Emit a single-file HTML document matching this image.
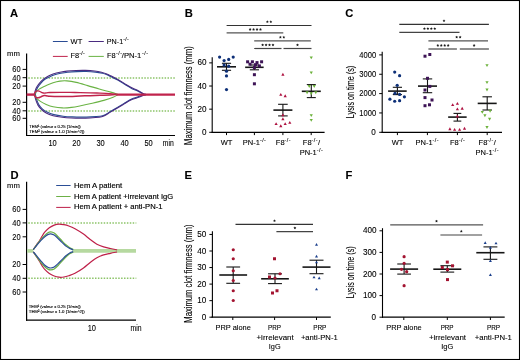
<!DOCTYPE html><html><head><meta charset="utf-8"><style>
html,body{margin:0;padding:0;background:#fff;}
body{width:520px;height:360px;overflow:hidden;}
svg{display:block;will-change:transform;}
text{font-family:"Liberation Sans", sans-serif;stroke:#000;stroke-width:0.1px;}
.b{stroke-width:0.16px;}
</style></head><body>
<svg xmlns="http://www.w3.org/2000/svg" width="520" height="360" viewBox="0 0 520 360">
<rect x="0" y="0" width="520" height="360" fill="#fff"/>
<text x="10" y="16.8" font-size="11.2" text-anchor="start" fill="#000" font-weight="bold" >A</text>
<text x="184.7" y="16.9" font-size="11.2" text-anchor="start" fill="#000" font-weight="bold" >B</text>
<text x="345.2" y="16.9" font-size="11.2" text-anchor="start" fill="#000" font-weight="bold" >C</text>
<text x="10.4" y="178.6" font-size="11.2" text-anchor="start" fill="#000" font-weight="bold" >D</text>
<text x="184.6" y="178.6" font-size="11.2" text-anchor="start" fill="#000" font-weight="bold" >E</text>
<text x="345.6" y="178.6" font-size="11.2" text-anchor="start" fill="#000" font-weight="bold" >F</text>
<line x1="52.9" y1="41.5" x2="67.7" y2="41.5" stroke="#2a4c94" stroke-width="1" />
<text x="70.6" y="43.6" font-size="7.5" text-anchor="start" fill="#000" font-weight="normal" >WT</text>
<line x1="88.6" y1="41.5" x2="103.8" y2="41.5" stroke="#4a2b80" stroke-width="1" />
<text x="106.8" y="43.6" font-size="7.2" text-anchor="start" fill="#000" font-weight="normal" >PN-1<tspan font-size="5.2" dy="-3.0" letter-spacing="0.35">-/-</tspan></text>
<line x1="52.9" y1="56.4" x2="67.7" y2="56.4" stroke="#c0234c" stroke-width="1" />
<text x="70.6" y="58.4" font-size="7.4" text-anchor="start" fill="#000" font-weight="normal" >F8<tspan font-size="5.2" dy="-3.0" letter-spacing="0.35">-/-</tspan></text>
<line x1="88.6" y1="56.4" x2="103.8" y2="56.4" stroke="#6ab344" stroke-width="1" />
<text x="106.9" y="58.4" font-size="7.4" text-anchor="start" fill="#000" font-weight="normal" >F8</text>
<text x="116" y="54.8" font-size="5.3" text-anchor="start" fill="#000" font-weight="normal" letter-spacing="0.45">-/-</text>
<text x="121.8" y="58.4" font-size="7.4" text-anchor="start" fill="#000" font-weight="normal" textLength="19.6" lengthAdjust="spacingAndGlyphs" >/PN-1</text>
<text x="142" y="54.8" font-size="5.3" text-anchor="start" fill="#000" font-weight="normal" letter-spacing="0.45">-/-</text>
<text x="7.1" y="56.3" font-size="7.3" text-anchor="start" fill="#000" font-weight="normal" textLength="12.9" lengthAdjust="spacingAndGlyphs" >mm</text>
<line x1="26.6" y1="53.4" x2="26.6" y2="136.1" stroke="#000" stroke-width="1.2" />
<line x1="26" y1="135.5" x2="175" y2="135.5" stroke="#000" stroke-width="1.2" />
<line x1="22.6" y1="69.4" x2="26.6" y2="69.4" stroke="#000" stroke-width="1" />
<text x="20.6" y="72.35" font-size="8.3" text-anchor="end" fill="#000" font-weight="normal" textLength="8.31" lengthAdjust="spacingAndGlyphs" >60</text>
<line x1="22.6" y1="77.7" x2="26.6" y2="77.7" stroke="#000" stroke-width="1" />
<text x="20.6" y="80.65" font-size="8.3" text-anchor="end" fill="#000" font-weight="normal" textLength="8.31" lengthAdjust="spacingAndGlyphs" >40</text>
<line x1="22.6" y1="86.1" x2="26.6" y2="86.1" stroke="#000" stroke-width="1" />
<text x="20.6" y="89.05" font-size="8.3" text-anchor="end" fill="#000" font-weight="normal" textLength="8.31" lengthAdjust="spacingAndGlyphs" >20</text>
<line x1="22.6" y1="102.3" x2="26.6" y2="102.3" stroke="#000" stroke-width="1" />
<text x="20.6" y="105.25" font-size="8.3" text-anchor="end" fill="#000" font-weight="normal" textLength="8.31" lengthAdjust="spacingAndGlyphs" >20</text>
<line x1="22.6" y1="110.8" x2="26.6" y2="110.8" stroke="#000" stroke-width="1" />
<text x="20.6" y="113.75" font-size="8.3" text-anchor="end" fill="#000" font-weight="normal" textLength="8.31" lengthAdjust="spacingAndGlyphs" >40</text>
<line x1="22.6" y1="118.3" x2="26.6" y2="118.3" stroke="#000" stroke-width="1" />
<text x="20.6" y="121.25" font-size="8.3" text-anchor="end" fill="#000" font-weight="normal" textLength="8.31" lengthAdjust="spacingAndGlyphs" >60</text>
<text x="52.6" y="145.8" font-size="8.3" text-anchor="middle" fill="#000" font-weight="normal" textLength="8.31" lengthAdjust="spacingAndGlyphs" >10</text>
<text x="76.5" y="145.8" font-size="8.3" text-anchor="middle" fill="#000" font-weight="normal" textLength="8.31" lengthAdjust="spacingAndGlyphs" >20</text>
<text x="100.6" y="145.8" font-size="8.3" text-anchor="middle" fill="#000" font-weight="normal" textLength="8.31" lengthAdjust="spacingAndGlyphs" >30</text>
<text x="124.6" y="145.8" font-size="8.3" text-anchor="middle" fill="#000" font-weight="normal" textLength="8.31" lengthAdjust="spacingAndGlyphs" >40</text>
<text x="148.6" y="145.8" font-size="8.3" text-anchor="middle" fill="#000" font-weight="normal" textLength="8.31" lengthAdjust="spacingAndGlyphs" >50</text>
<text x="168.3" y="145.8" font-size="8.3" text-anchor="middle" fill="#000" font-weight="normal" textLength="10.97" lengthAdjust="spacingAndGlyphs" >min</text>
<text x="29.2" y="127.6" font-size="4" text-anchor="start" fill="#000" font-weight="normal" textLength="51.5" lengthAdjust="spacingAndGlyphs" style="stroke-width:0.12px">TEM¹ (valeur x 0.25 [1/min])</text>
<text x="29.2" y="132.6" font-size="4" text-anchor="start" fill="#000" font-weight="normal" textLength="55.3" lengthAdjust="spacingAndGlyphs" style="stroke-width:0.12px">TEM² (valeur x 1.0 [1/min^2])</text>
<line x1="28.3" y1="77.9" x2="175" y2="77.9" stroke="#8cc468" stroke-width="1.5" stroke-dasharray="1.5 1.4"/>
<line x1="28.3" y1="110.9" x2="175" y2="110.9" stroke="#8cc468" stroke-width="1.5" stroke-dasharray="1.5 1.4"/>
<path d="M35.3,94.9 C35.45,94.22 35.8,92.05 36.2,90.8 C36.6,89.55 36.87,88.73 37.7,87.4 C38.53,86.07 40.05,84.12 41.2,82.8 C42.35,81.48 43.25,80.47 44.6,79.5 C45.95,78.53 47.75,77.73 49.3,77 C50.85,76.27 51.98,75.72 53.9,75.1 C55.82,74.48 58.5,73.78 60.8,73.3 C63.1,72.82 65,72.48 67.7,72.2 C70.4,71.92 73.92,71.72 77,71.6 C80.08,71.48 83.13,71.42 86.2,71.5 C89.27,71.58 92.72,71.8 95.4,72.1 C98.08,72.4 100.37,72.85 102.3,73.3 C104.23,73.75 105.58,74.25 107,74.8 C108.42,75.35 109,75.72 110.8,76.6 C112.6,77.48 115.48,78.83 117.8,80.1 C120.12,81.37 122.4,82.82 124.7,84.2 C127,85.58 129.28,87.17 131.6,88.4 C133.92,89.63 136.27,90.4 138.6,91.6 C140.93,92.8 144.43,94.93 145.6,95.6" fill="none" stroke="#2a4c94" stroke-width="1.1"/>
<path d="M35.3,94 C35.52,94.88 36,97.5 36.6,99.3 C37.2,101.1 37.95,103.22 38.9,104.8 C39.85,106.38 40.95,107.6 42.3,108.8 C43.65,110 45.07,111.03 47,112 C48.93,112.97 51.22,113.9 53.9,114.6 C56.58,115.3 60.03,115.82 63.1,116.2 C66.17,116.58 69.22,116.75 72.3,116.9 C75.38,117.05 78.52,117.1 81.6,117.1 C84.68,117.1 87.73,117.05 90.8,116.9 C93.87,116.75 97.7,116.52 100,116.2 C102.3,115.88 102.8,115.82 104.6,115 C106.4,114.18 108.6,112.62 110.8,111.3 C113,109.98 115.48,108.48 117.8,107.1 C120.12,105.72 122.4,104.35 124.7,103 C127,101.65 129.28,100.08 131.6,99 C133.92,97.92 136.27,97.38 138.6,96.5 C140.93,95.62 144.43,94.17 145.6,93.7" fill="none" stroke="#2a4c94" stroke-width="1.1"/>
<path d="M34.5,94.3 C34.65,93.62 35,91.45 35.4,90.2 C35.8,88.95 36.07,88.13 36.9,86.8 C37.73,85.47 39.25,83.52 40.4,82.2 C41.55,80.88 42.45,79.95 43.8,78.9 C45.15,77.85 46.95,76.72 48.5,75.9 C50.05,75.08 51.18,74.62 53.1,74 C55.02,73.38 57.7,72.68 60,72.2 C62.3,71.72 64.2,71.38 66.9,71.1 C69.6,70.82 73.12,70.62 76.2,70.5 C79.28,70.38 82.33,70.32 85.4,70.4 C88.47,70.48 91.92,70.7 94.6,71 C97.28,71.3 99.57,71.75 101.5,72.2 C103.43,72.65 104.78,73.15 106.2,73.7 C107.62,74.25 108.2,74.62 110,75.5 C111.8,76.38 114.68,77.73 117,79 C119.32,80.27 121.6,81.72 123.9,83.1 C126.2,84.48 128.48,86.07 130.8,87.3 C133.12,88.53 135.47,89.3 137.8,90.5 C140.13,91.7 143.63,93.83 144.8,94.5" fill="none" stroke="#4a2b80" stroke-width="1.1"/>
<path d="M34.5,94.6 C34.72,95.48 35.2,98.1 35.8,99.9 C36.4,101.7 37.15,103.82 38.1,105.4 C39.05,106.98 40.15,108.12 41.5,109.4 C42.85,110.68 44.27,112.05 46.2,113.1 C48.13,114.15 50.42,115 53.1,115.7 C55.78,116.4 59.23,116.92 62.3,117.3 C65.37,117.68 68.42,117.85 71.5,118 C74.58,118.15 77.72,118.2 80.8,118.2 C83.88,118.2 86.93,118.15 90,118 C93.07,117.85 96.9,117.62 99.2,117.3 C101.5,116.98 102,116.92 103.8,116.1 C105.6,115.28 107.8,113.72 110,112.4 C112.2,111.08 114.68,109.58 117,108.2 C119.32,106.82 121.6,105.45 123.9,104.1 C126.2,102.75 128.48,101.18 130.8,100.1 C133.12,99.02 135.47,98.48 137.8,97.6 C140.13,96.72 143.63,95.27 144.8,94.8" fill="none" stroke="#4a2b80" stroke-width="1.1"/>
<path d="M34.8,94.2 C35,93.83 35.27,92.85 36,92 C36.73,91.15 37.5,90.17 39.2,89.1 C40.9,88.03 43.88,86.67 46.2,85.6 C48.52,84.53 50.8,83.45 53.1,82.7 C55.4,81.95 57.7,81.4 60,81.1 C62.3,80.8 64.2,80.68 66.9,80.9 C69.6,81.12 72.73,81.62 76.2,82.4 C79.67,83.18 83.87,84.5 87.7,85.6 C91.53,86.7 95.35,87.92 99.2,89 C103.05,90.08 107.68,91.22 110.8,92.1 C113.92,92.98 116.72,93.93 117.9,94.3" fill="none" stroke="#6ab344" stroke-width="1.1"/>
<path d="M34.8,94.6 C34.97,95.07 34.87,96.27 35.8,97.4 C36.73,98.53 38.67,100.23 40.4,101.4 C42.13,102.57 44.08,103.52 46.2,104.4 C48.32,105.28 50.42,106.12 53.1,106.7 C55.78,107.28 59.23,107.78 62.3,107.9 C65.37,108.02 68.42,107.75 71.5,107.4 C74.58,107.05 77.33,106.48 80.8,105.8 C84.27,105.12 88.47,104.2 92.3,103.3 C96.13,102.4 100.33,101.4 103.8,100.4 C107.27,99.4 110.75,98.27 113.1,97.3 C115.45,96.33 117.1,95.05 117.9,94.6" fill="none" stroke="#6ab344" stroke-width="1.1"/>
<line x1="26.6" y1="94.6" x2="34.6" y2="94.6" stroke="#c0234c" stroke-width="2.4" />
<line x1="116.3" y1="94.6" x2="175" y2="94.6" stroke="#c0234c" stroke-width="2.4" />
<path d="M34.3,94.2 C34.45,93.87 34.83,92.72 35.2,92.2 C35.57,91.68 36,91.32 36.5,91.1 C37,90.88 37.62,90.83 38.2,90.9 C38.78,90.97 39.37,91.22 40,91.5 C40.63,91.78 41.25,92.33 42,92.6 C42.75,92.87 43.67,93.07 44.5,93.1 C45.33,93.13 46.08,92.9 47,92.8 C47.92,92.7 47.83,92.57 50,92.5 C52.17,92.43 55.83,92.4 60,92.4 C64.17,92.4 70,92.43 75,92.5 C80,92.57 85.83,92.7 90,92.8 C94.17,92.9 96.67,92.97 100,93.1 C103.33,93.23 107.25,93.4 110,93.6 C112.75,93.8 115.42,94.18 116.5,94.3" fill="none" stroke="#c0234c" stroke-width="1.3"/>
<path d="M34.3,94.6 C34.45,94.93 34.83,96.1 35.2,96.6 C35.57,97.1 36,97.4 36.5,97.6 C37,97.8 37.62,97.85 38.2,97.8 C38.78,97.75 39.37,97.57 40,97.3 C40.63,97.03 41.25,96.48 42,96.2 C42.75,95.92 43.67,95.65 44.5,95.6 C45.33,95.55 46.08,95.78 47,95.9 C47.92,96.02 47.83,96.2 50,96.3 C52.17,96.4 56.67,96.48 60,96.5 C63.33,96.52 66.67,96.48 70,96.4 C73.33,96.32 76.67,96.12 80,96 C83.33,95.88 86.67,95.81 90,95.7 C93.33,95.59 96.67,95.48 100,95.35 C103.33,95.22 107.25,95.04 110,94.9 C112.75,94.76 115.42,94.57 116.5,94.5" fill="none" stroke="#c0234c" stroke-width="1.5"/>
<line x1="10" y1="0" x2="10" y2="0" stroke="#fff" stroke-width="0" />
<text x="7.1" y="188.3" font-size="7.3" text-anchor="start" fill="#000" font-weight="normal" textLength="12.9" lengthAdjust="spacingAndGlyphs" >mm</text>
<line x1="26.6" y1="181.8" x2="26.6" y2="320.8" stroke="#000" stroke-width="1.2" />
<line x1="26" y1="320.2" x2="136" y2="320.2" stroke="#000" stroke-width="1.2" />
<line x1="22.6" y1="209.4" x2="26.6" y2="209.4" stroke="#000" stroke-width="1" />
<text x="20.6" y="212.35" font-size="8.3" text-anchor="end" fill="#000" font-weight="normal" textLength="8.31" lengthAdjust="spacingAndGlyphs" >60</text>
<line x1="22.6" y1="222.9" x2="26.6" y2="222.9" stroke="#000" stroke-width="1" />
<text x="20.6" y="225.85" font-size="8.3" text-anchor="end" fill="#000" font-weight="normal" textLength="8.31" lengthAdjust="spacingAndGlyphs" >40</text>
<line x1="22.6" y1="236.8" x2="26.6" y2="236.8" stroke="#000" stroke-width="1" />
<text x="20.6" y="239.75" font-size="8.3" text-anchor="end" fill="#000" font-weight="normal" textLength="8.31" lengthAdjust="spacingAndGlyphs" >20</text>
<line x1="22.6" y1="264.5" x2="26.6" y2="264.5" stroke="#000" stroke-width="1" />
<text x="20.6" y="267.45" font-size="8.3" text-anchor="end" fill="#000" font-weight="normal" textLength="8.31" lengthAdjust="spacingAndGlyphs" >20</text>
<line x1="22.6" y1="278.3" x2="26.6" y2="278.3" stroke="#000" stroke-width="1" />
<text x="20.6" y="281.25" font-size="8.3" text-anchor="end" fill="#000" font-weight="normal" textLength="8.31" lengthAdjust="spacingAndGlyphs" >40</text>
<line x1="22.6" y1="292" x2="26.6" y2="292" stroke="#000" stroke-width="1" />
<text x="20.6" y="294.95" font-size="8.3" text-anchor="end" fill="#000" font-weight="normal" textLength="8.31" lengthAdjust="spacingAndGlyphs" >60</text>
<text x="91.8" y="330.5" font-size="8.3" text-anchor="middle" fill="#000" font-weight="normal" textLength="8.31" lengthAdjust="spacingAndGlyphs" >10</text>
<text x="136" y="330.5" font-size="8.3" text-anchor="middle" fill="#000" font-weight="normal" textLength="10.97" lengthAdjust="spacingAndGlyphs" >min</text>
<text x="28.8" y="308" font-size="4" text-anchor="start" fill="#000" font-weight="normal" textLength="51.9" lengthAdjust="spacingAndGlyphs" style="stroke-width:0.12px">TEM¹ (valeur x 0.25 [1/min])</text>
<text x="28.8" y="313.3" font-size="4" text-anchor="start" fill="#000" font-weight="normal" textLength="55.8" lengthAdjust="spacingAndGlyphs" style="stroke-width:0.12px">TEM² (valeur x 1.0 [1/min^2])</text>
<line x1="56.2" y1="185.5" x2="70.6" y2="185.5" stroke="#2b4e96" stroke-width="1" />
<line x1="56.2" y1="196.5" x2="70.6" y2="196.5" stroke="#6cb046" stroke-width="1" />
<line x1="56.2" y1="207.4" x2="70.6" y2="207.4" stroke="#be1f48" stroke-width="1" />
<text x="74" y="187.8" font-size="7.2" text-anchor="start" fill="#000" font-weight="normal" textLength="48.2" lengthAdjust="spacingAndGlyphs" class="b">Hem A patient</text>
<text x="74" y="198.7" font-size="7.2" text-anchor="start" fill="#000" font-weight="normal" textLength="99.2" lengthAdjust="spacingAndGlyphs" class="b">Hem A patient +irrelevant IgG</text>
<text x="74" y="209.2" font-size="7.2" text-anchor="start" fill="#000" font-weight="normal" textLength="88.5" lengthAdjust="spacingAndGlyphs" class="b">Hem A patient + anti-PN-1</text>
<line x1="28.3" y1="223.1" x2="136.3" y2="223.1" stroke="#8cc468" stroke-width="1.5" stroke-dasharray="1.5 1.4"/>
<line x1="28.3" y1="278.3" x2="136.3" y2="278.3" stroke="#8cc468" stroke-width="1.5" stroke-dasharray="1.5 1.4"/>
<line x1="27" y1="250.9" x2="33.2" y2="250.9" stroke="#b6d9a0" stroke-width="3.6" />
<line x1="72.7" y1="250.9" x2="136" y2="250.9" stroke="#b6d9a0" stroke-width="3.6" />
<path d="M33.3,249.6 C33.87,248.78 35.65,246.22 36.7,244.7 C37.75,243.18 38.72,241.9 39.6,240.5 C40.48,239.1 41.18,237.65 42,236.3 C42.82,234.95 43.28,233.82 44.5,232.4 C45.72,230.98 47.68,229.02 49.3,227.8 C50.92,226.58 52.58,225.72 54.2,225.1 C55.82,224.48 57.38,224.17 59,224.1 C60.62,224.03 62.27,224.38 63.9,224.7 C65.53,225.02 66.95,225.32 68.8,226 C70.65,226.68 72.55,227.45 75,228.8 C77.45,230.15 80.97,232.32 83.5,234.1 C86.03,235.88 87.97,237.82 90.2,239.5 C92.43,241.18 94.67,242.97 96.9,244.2 C99.13,245.43 101.35,246.18 103.6,246.9 C105.85,247.62 108.15,248 110.4,248.5 C112.65,249 115.98,249.67 117.1,249.9" fill="none" stroke="#be1f48" stroke-width="1.2"/>
<path d="M33.3,251.9 C33.87,252.73 35.65,255.3 36.7,256.9 C37.75,258.5 38.72,260.05 39.6,261.5 C40.48,262.95 41.18,264.32 42,265.6 C42.82,266.88 43.28,267.88 44.5,269.2 C45.72,270.52 47.68,272.37 49.3,273.5 C50.92,274.63 52.58,275.38 54.2,276 C55.82,276.62 57.38,277.03 59,277.2 C60.62,277.37 62.27,277.25 63.9,277 C65.53,276.75 66.95,276.32 68.8,275.7 C70.65,275.08 72.55,274.58 75,273.3 C77.45,272.02 80.97,269.8 83.5,268 C86.03,266.2 87.97,264.22 90.2,262.5 C92.43,260.78 94.67,258.97 96.9,257.7 C99.13,256.43 101.35,255.63 103.6,254.9 C105.85,254.17 108.15,253.78 110.4,253.3 C112.65,252.82 115.98,252.22 117.1,252" fill="none" stroke="#be1f48" stroke-width="1.2"/>
<path d="M33.3,249.6 C33.87,248.8 35.48,246.42 36.7,244.8 C37.92,243.18 39.3,241.43 40.6,239.9 C41.9,238.37 43.22,236.83 44.5,235.6 C45.78,234.37 47.25,233.12 48.3,232.5 C49.35,231.88 49.82,231.8 50.8,231.9 C51.78,232 52.98,232.3 54.2,233.1 C55.42,233.9 56.8,235.4 58.1,236.7 C59.4,238 60.7,239.55 62,240.9 C63.3,242.25 64.62,243.67 65.9,244.8 C67.18,245.93 68.48,246.93 69.7,247.7 C70.92,248.47 72.62,249.12 73.2,249.4" fill="none" stroke="#6cb046" stroke-width="1.2"/>
<path d="M33.3,251.9 C33.87,252.72 35.48,255.1 36.7,256.8 C37.92,258.5 39.3,260.48 40.6,262.1 C41.9,263.72 43.22,265.28 44.5,266.5 C45.78,267.72 47.25,268.83 48.3,269.4 C49.35,269.97 49.82,269.98 50.8,269.9 C51.78,269.82 52.98,269.63 54.2,268.9 C55.42,268.17 56.8,266.8 58.1,265.5 C59.4,264.2 60.7,262.52 62,261.1 C63.3,259.68 64.62,258.22 65.9,257 C67.18,255.78 68.48,254.58 69.7,253.8 C70.92,253.02 72.62,252.55 73.2,252.3" fill="none" stroke="#6cb046" stroke-width="1.2"/>
<path d="M33.3,249.6 C33.87,248.88 35.48,246.75 36.7,245.3 C37.92,243.85 39.3,242.28 40.6,240.9 C41.9,239.52 43.22,238.08 44.5,237 C45.78,235.92 47.25,234.92 48.3,234.4 C49.35,233.88 49.82,233.78 50.8,233.9 C51.78,234.02 52.98,234.33 54.2,235.1 C55.42,235.87 56.8,237.28 58.1,238.5 C59.4,239.72 60.7,241.13 62,242.4 C63.3,243.67 64.62,245.1 65.9,246.1 C67.18,247.1 68.48,247.77 69.7,248.4 C70.92,249.03 72.62,249.65 73.2,249.9" fill="none" stroke="#2b4e96" stroke-width="1.2"/>
<path d="M33.3,251.9 C33.87,252.55 35.48,254.35 36.7,255.8 C37.92,257.25 39.3,259.07 40.6,260.6 C41.9,262.13 43.22,263.85 44.5,265 C45.78,266.15 47.25,267 48.3,267.5 C49.35,268 49.82,268.08 50.8,268 C51.78,267.92 52.98,267.73 54.2,267 C55.42,266.27 56.8,264.82 58.1,263.6 C59.4,262.38 60.7,261 62,259.7 C63.3,258.4 64.62,256.93 65.9,255.8 C67.18,254.67 68.48,253.6 69.7,252.9 C70.92,252.2 72.62,251.82 73.2,251.6" fill="none" stroke="#2b4e96" stroke-width="1.2"/>
<text x="0" y="0" font-size="10.2" text-anchor="middle" textLength="98.6" lengthAdjust="spacingAndGlyphs" transform="translate(192.4,95.6) rotate(-90)">Maximum clot firmness (mm)</text>
<line x1="212.2" y1="57.3" x2="212.2" y2="132.9" stroke="#000" stroke-width="1.1" />
<line x1="209.2" y1="62.88" x2="212.2" y2="62.88" stroke="#000" stroke-width="1" />
<text x="206.5" y="65.48" font-size="8.3" text-anchor="end" fill="#000" font-weight="normal" textLength="9.05" lengthAdjust="spacingAndGlyphs" >60</text>
<line x1="209.2" y1="86.02" x2="212.2" y2="86.02" stroke="#000" stroke-width="1" />
<text x="206.5" y="88.62" font-size="8.3" text-anchor="end" fill="#000" font-weight="normal" textLength="9.05" lengthAdjust="spacingAndGlyphs" >40</text>
<line x1="209.2" y1="109.16" x2="212.2" y2="109.16" stroke="#000" stroke-width="1" />
<text x="206.5" y="111.76" font-size="8.3" text-anchor="end" fill="#000" font-weight="normal" textLength="9.05" lengthAdjust="spacingAndGlyphs" >20</text>
<line x1="209.2" y1="132.3" x2="212.2" y2="132.3" stroke="#000" stroke-width="1" />
<text x="206.5" y="134.9" font-size="8.3" text-anchor="end" fill="#000" font-weight="normal" textLength="4.52" lengthAdjust="spacingAndGlyphs" >0</text>
<line x1="211.6" y1="132.3" x2="324.6" y2="132.3" stroke="#000" stroke-width="1.2" />
<line x1="226.5" y1="132.3" x2="226.5" y2="135.1" stroke="#000" stroke-width="1" />
<line x1="254.4" y1="132.3" x2="254.4" y2="135.1" stroke="#000" stroke-width="1" />
<line x1="282.9" y1="132.3" x2="282.9" y2="135.1" stroke="#000" stroke-width="1" />
<line x1="311.2" y1="132.3" x2="311.2" y2="135.1" stroke="#000" stroke-width="1" />
<text x="226.5" y="145.4" font-size="7.5" text-anchor="middle" fill="#000" font-weight="normal" >WT</text>
<text x="242.8" y="145.4" font-size="7.5" text-anchor="start" fill="#000" font-weight="normal" >PN-1<tspan font-size="5.4" dy="-3.2" letter-spacing="0.45">-/-</tspan></text>
<text x="275.8" y="145.4" font-size="7.5" text-anchor="start" fill="#000" font-weight="normal" >F8<tspan font-size="5.4" dy="-3.2" letter-spacing="0.45">-/-</tspan></text>
<text x="302.8" y="145.4" font-size="7.5" text-anchor="start" fill="#000" font-weight="normal" >F8<tspan font-size="5.4" dy="-3.2" letter-spacing="0.45">-/-</tspan><tspan dy="3.2">/</tspan></text>
<text x="299.7" y="155" font-size="7.5" text-anchor="start" fill="#000" font-weight="normal" >PN-1<tspan font-size="5.4" dy="-3.2" letter-spacing="0.45">-/-</tspan></text>
<line x1="226.6" y1="25.5" x2="311.5" y2="25.5" stroke="#333" stroke-width="1.1" />
<polygon points="267.38,20.35 267.82,21.24 268.8,21.39 268.09,22.08 268.26,23.06 267.38,22.6 266.49,23.06 266.66,22.08 265.95,21.39 266.93,21.24" fill="#1a1a1a"/>
<polygon points="270.82,20.35 271.27,21.24 272.25,21.39 271.54,22.08 271.71,23.06 270.82,22.6 269.94,23.06 270.11,22.08 269.4,21.39 270.38,21.24" fill="#1a1a1a"/>
<line x1="226.6" y1="32.9" x2="283.3" y2="32.9" stroke="#555" stroke-width="1.3" />
<polygon points="250.12,27.95 250.57,28.84 251.55,28.99 250.84,29.68 251.01,30.66 250.12,30.2 249.24,30.66 249.41,29.68 248.7,28.99 249.68,28.84" fill="#1a1a1a"/>
<polygon points="253.57,27.95 254.02,28.84 255,28.99 254.29,29.68 254.46,30.66 253.57,30.2 252.69,30.66 252.86,29.68 252.15,28.99 253.13,28.84" fill="#1a1a1a"/>
<polygon points="257.02,27.95 257.47,28.84 258.45,28.99 257.74,29.68 257.91,30.66 257.02,30.2 256.14,30.66 256.31,29.68 255.6,28.99 256.58,28.84" fill="#1a1a1a"/>
<polygon points="260.48,27.95 260.92,28.84 261.9,28.99 261.19,29.68 261.36,30.66 260.48,30.2 259.59,30.66 259.76,29.68 259.05,28.99 260.03,28.84" fill="#1a1a1a"/>
<line x1="254.2" y1="40.9" x2="310.8" y2="40.9" stroke="#555" stroke-width="1.3" />
<polygon points="280.38,35.75 280.82,36.64 281.8,36.79 281.09,37.48 281.26,38.46 280.38,38 279.49,38.46 279.66,37.48 278.95,36.79 279.93,36.64" fill="#1a1a1a"/>
<polygon points="283.82,35.75 284.27,36.64 285.25,36.79 284.54,37.48 284.71,38.46 283.82,38 282.94,38.46 283.11,37.48 282.4,36.79 283.38,36.64" fill="#1a1a1a"/>
<line x1="254.2" y1="48.5" x2="281.5" y2="48.5" stroke="#444" stroke-width="1.2" />
<polygon points="262.62,43.45 263.07,44.34 264.05,44.49 263.34,45.18 263.51,46.16 262.62,45.7 261.74,46.16 261.91,45.18 261.2,44.49 262.18,44.34" fill="#1a1a1a"/>
<polygon points="266.07,43.45 266.52,44.34 267.5,44.49 266.79,45.18 266.96,46.16 266.07,45.7 265.19,46.16 265.36,45.18 264.65,44.49 265.63,44.34" fill="#1a1a1a"/>
<polygon points="269.52,43.45 269.97,44.34 270.95,44.49 270.24,45.18 270.41,46.16 269.52,45.7 268.64,46.16 268.81,45.18 268.1,44.49 269.08,44.34" fill="#1a1a1a"/>
<polygon points="272.98,43.45 273.42,44.34 274.4,44.49 273.69,45.18 273.86,46.16 272.98,45.7 272.09,46.16 272.26,45.18 271.55,44.49 272.53,44.34" fill="#1a1a1a"/>
<line x1="283.5" y1="48.5" x2="311.5" y2="48.5" stroke="#444" stroke-width="1.2" />
<polygon points="297.5,43.45 297.94,44.34 298.93,44.49 298.21,45.18 298.38,46.16 297.5,45.7 296.62,46.16 296.79,45.18 296.07,44.49 297.06,44.34" fill="#1a1a1a"/>
<line x1="217" y1="66.8" x2="236" y2="66.8" stroke="#161616" stroke-width="1.6" />
<line x1="221.9" y1="63.3" x2="231.1" y2="63.3" stroke="#161616" stroke-width="1.1" />
<line x1="221.9" y1="70.3" x2="231.1" y2="70.3" stroke="#161616" stroke-width="1.1" />
<line x1="226.5" y1="63.3" x2="226.5" y2="70.3" stroke="#161616" stroke-width="1.1" />
<circle cx="219.6" cy="57.1" r="1.6" fill="#0e3078"/>
<circle cx="233.2" cy="57.1" r="1.6" fill="#0e3078"/>
<circle cx="224.1" cy="60.6" r="1.6" fill="#0e3078"/>
<circle cx="228.7" cy="59.4" r="1.6" fill="#0e3078"/>
<circle cx="224.1" cy="65.1" r="1.6" fill="#0e3078"/>
<circle cx="228.7" cy="66.2" r="1.6" fill="#0e3078"/>
<circle cx="226.5" cy="71.2" r="1.6" fill="#0e3078"/>
<circle cx="226.5" cy="75.9" r="1.6" fill="#0e3078"/>
<circle cx="226.5" cy="89.6" r="1.6" fill="#0e3078"/>
<line x1="245.15" y1="67.3" x2="263.65" y2="67.3" stroke="#161616" stroke-width="1.6" />
<line x1="249.8" y1="65" x2="259" y2="65" stroke="#161616" stroke-width="1.1" />
<line x1="249.8" y1="69.8" x2="259" y2="69.8" stroke="#161616" stroke-width="1.1" />
<line x1="254.4" y1="65" x2="254.4" y2="69.8" stroke="#161616" stroke-width="1.1" />
<rect x="246.1" y="60.3" width="3" height="3" fill="#3e1456"/>
<rect x="250.9" y="60.3" width="3" height="3" fill="#3e1456"/>
<rect x="255.5" y="61.1" width="3" height="3" fill="#3e1456"/>
<rect x="260.1" y="60.3" width="3" height="3" fill="#3e1456"/>
<rect x="248.5" y="62.7" width="3" height="3" fill="#3e1456"/>
<rect x="254" y="63.2" width="3" height="3" fill="#3e1456"/>
<rect x="257.9" y="64.4" width="3" height="3" fill="#3e1456"/>
<rect x="252.9" y="66.1" width="3" height="3" fill="#3e1456"/>
<rect x="252.9" y="73.2" width="3" height="3" fill="#3e1456"/>
<rect x="252.9" y="82.3" width="3" height="3" fill="#3e1456"/>
<line x1="273.4" y1="110.1" x2="292.4" y2="110.1" stroke="#161616" stroke-width="1.6" />
<line x1="278.1" y1="104.3" x2="287.7" y2="104.3" stroke="#161616" stroke-width="1.1" />
<line x1="278.1" y1="115.9" x2="287.7" y2="115.9" stroke="#161616" stroke-width="1.1" />
<line x1="282.9" y1="104.3" x2="282.9" y2="115.9" stroke="#161616" stroke-width="1.1" />
<polygon points="282.9,72.86 281.3,75.74 284.5,75.74" fill="#ae1240"/>
<polygon points="280.8,92.96 279.2,95.84 282.4,95.84" fill="#ae1240"/>
<polygon points="285.2,94.36 283.6,97.24 286.8,97.24" fill="#ae1240"/>
<polygon points="282.9,113.36 281.3,116.24 284.5,116.24" fill="#ae1240"/>
<polygon points="282.9,117.26 281.3,120.14 284.5,120.14" fill="#ae1240"/>
<polygon points="276.1,122.16 274.5,125.04 277.7,125.04" fill="#ae1240"/>
<polygon points="280.8,124.26 279.2,127.14 282.4,127.14" fill="#ae1240"/>
<polygon points="285.2,122.16 283.6,125.04 286.8,125.04" fill="#ae1240"/>
<polygon points="289.8,120.96 288.2,123.84 291.4,123.84" fill="#ae1240"/>
<line x1="301.8" y1="91.3" x2="320.8" y2="91.3" stroke="#161616" stroke-width="1.6" />
<line x1="306.8" y1="84.6" x2="315.8" y2="84.6" stroke="#161616" stroke-width="1.1" />
<line x1="306.8" y1="97.6" x2="315.8" y2="97.6" stroke="#161616" stroke-width="1.1" />
<line x1="311.3" y1="84.6" x2="311.3" y2="97.6" stroke="#161616" stroke-width="1.1" />
<polygon points="311.25,59.34 309.65,56.46 312.85,56.46" fill="#6bb13a"/>
<polygon points="311.25,74.34 309.65,71.46 312.85,71.46" fill="#6bb13a"/>
<polygon points="309.2,87.94 307.6,85.06 310.8,85.06" fill="#6bb13a"/>
<polygon points="314.2,87.94 312.6,85.06 315.8,85.06" fill="#6bb13a"/>
<polygon points="307.1,94.14 305.5,91.26 308.7,91.26" fill="#6bb13a"/>
<polygon points="311.25,95.19 309.65,92.31 312.85,92.31" fill="#6bb13a"/>
<polygon points="315.8,94.14 314.2,91.26 317.4,91.26" fill="#6bb13a"/>
<polygon points="311.25,117.04 309.65,114.16 312.85,114.16" fill="#6bb13a"/>
<polygon points="311.25,121.84 309.65,118.96 312.85,118.96" fill="#6bb13a"/>
<text x="0" y="0" font-size="10.4" text-anchor="middle" textLength="52.4" lengthAdjust="spacingAndGlyphs" transform="translate(353.9,92) rotate(-90)">Lysis on time (s)</text>
<line x1="382.2" y1="51.8" x2="382.2" y2="132.9" stroke="#000" stroke-width="1.1" />
<line x1="379.2" y1="54.9" x2="382.2" y2="54.9" stroke="#000" stroke-width="1" />
<text x="376.1" y="57.5" font-size="8.3" text-anchor="end" fill="#000" font-weight="normal" textLength="16.8" lengthAdjust="spacingAndGlyphs" >4000</text>
<line x1="379.2" y1="74.25" x2="382.2" y2="74.25" stroke="#000" stroke-width="1" />
<text x="376.1" y="76.85" font-size="8.3" text-anchor="end" fill="#000" font-weight="normal" textLength="16.8" lengthAdjust="spacingAndGlyphs" >3000</text>
<line x1="379.2" y1="93.6" x2="382.2" y2="93.6" stroke="#000" stroke-width="1" />
<text x="376.1" y="96.2" font-size="8.3" text-anchor="end" fill="#000" font-weight="normal" textLength="16.8" lengthAdjust="spacingAndGlyphs" >2000</text>
<line x1="379.2" y1="112.95" x2="382.2" y2="112.95" stroke="#000" stroke-width="1" />
<text x="376.1" y="115.55" font-size="8.3" text-anchor="end" fill="#000" font-weight="normal" textLength="16.8" lengthAdjust="spacingAndGlyphs" >1000</text>
<line x1="379.2" y1="132.3" x2="382.2" y2="132.3" stroke="#000" stroke-width="1" />
<text x="375.7" y="134.9" font-size="8.3" text-anchor="end" fill="#000" font-weight="normal" textLength="4.52" lengthAdjust="spacingAndGlyphs" >0</text>
<line x1="381.6" y1="132.3" x2="502" y2="132.3" stroke="#000" stroke-width="1.2" />
<line x1="397.4" y1="132.3" x2="397.4" y2="135.1" stroke="#000" stroke-width="1" />
<line x1="427.4" y1="132.3" x2="427.4" y2="135.1" stroke="#000" stroke-width="1" />
<line x1="457.4" y1="132.3" x2="457.4" y2="135.1" stroke="#000" stroke-width="1" />
<line x1="487.2" y1="132.3" x2="487.2" y2="135.1" stroke="#000" stroke-width="1" />
<text x="397.6" y="145.4" font-size="7.5" text-anchor="middle" fill="#000" font-weight="normal" >WT</text>
<text x="415.5" y="145.4" font-size="7.5" text-anchor="start" fill="#000" font-weight="normal" >PN-1<tspan font-size="5.4" dy="-3.2" letter-spacing="0.45">-/-</tspan></text>
<text x="450" y="145.4" font-size="7.5" text-anchor="start" fill="#000" font-weight="normal" >F8<tspan font-size="5.4" dy="-3.2" letter-spacing="0.45">-/-</tspan></text>
<text x="478.6" y="145.4" font-size="7.5" text-anchor="start" fill="#000" font-weight="normal" >F8<tspan font-size="5.4" dy="-3.2" letter-spacing="0.45">-/-</tspan><tspan dy="3.2">/</tspan></text>
<text x="475.5" y="155" font-size="7.5" text-anchor="start" fill="#000" font-weight="normal" >PN-1<tspan font-size="5.4" dy="-3.2" letter-spacing="0.45">-/-</tspan></text>
<line x1="399.3" y1="24.4" x2="488.9" y2="24.4" stroke="#333" stroke-width="1.1" />
<polygon points="444,19.35 444.44,20.24 445.43,20.39 444.71,21.08 444.88,22.06 444,21.6 443.12,22.06 443.29,21.08 442.57,20.39 443.56,20.24" fill="#1a1a1a"/>
<line x1="399.3" y1="32.4" x2="459.5" y2="32.4" stroke="#444" stroke-width="1.2" />
<polygon points="424.43,27.15 424.87,28.04 425.85,28.19 425.14,28.88 425.31,29.86 424.43,29.4 423.54,29.86 423.71,28.88 423,28.19 423.98,28.04" fill="#1a1a1a"/>
<polygon points="427.88,27.15 428.32,28.04 429.3,28.19 428.59,28.88 428.76,29.86 427.88,29.4 426.99,29.86 427.16,28.88 426.45,28.19 427.43,28.04" fill="#1a1a1a"/>
<polygon points="431.32,27.15 431.77,28.04 432.75,28.19 432.04,28.88 432.21,29.86 431.32,29.4 430.44,29.86 430.61,28.88 429.9,28.19 430.88,28.04" fill="#1a1a1a"/>
<polygon points="434.78,27.15 435.22,28.04 436.2,28.19 435.49,28.88 435.66,29.86 434.78,29.4 433.89,29.86 434.06,28.88 433.35,28.19 434.33,28.04" fill="#1a1a1a"/>
<line x1="428.4" y1="40.9" x2="488" y2="40.9" stroke="#555" stroke-width="1.3" />
<polygon points="456.67,35.65 457.12,36.54 458.1,36.69 457.39,37.38 457.56,38.36 456.67,37.9 455.79,38.36 455.96,37.38 455.25,36.69 456.23,36.54" fill="#1a1a1a"/>
<polygon points="460.12,35.65 460.57,36.54 461.55,36.69 460.84,37.38 461.01,38.36 460.12,37.9 459.24,38.36 459.41,37.38 458.7,36.69 459.68,36.54" fill="#1a1a1a"/>
<line x1="428.4" y1="49" x2="456.9" y2="49" stroke="#444" stroke-width="1.2" />
<polygon points="437.82,43.95 438.27,44.84 439.25,44.99 438.54,45.68 438.71,46.66 437.82,46.2 436.94,46.66 437.11,45.68 436.4,44.99 437.38,44.84" fill="#1a1a1a"/>
<polygon points="441.27,43.95 441.72,44.84 442.7,44.99 441.99,45.68 442.16,46.66 441.27,46.2 440.39,46.66 440.56,45.68 439.85,44.99 440.83,44.84" fill="#1a1a1a"/>
<polygon points="444.72,43.95 445.17,44.84 446.15,44.99 445.44,45.68 445.61,46.66 444.72,46.2 443.84,46.66 444.01,45.68 443.3,44.99 444.28,44.84" fill="#1a1a1a"/>
<polygon points="448.18,43.95 448.62,44.84 449.6,44.99 448.89,45.68 449.06,46.66 448.18,46.2 447.29,46.66 447.46,45.68 446.75,44.99 447.73,44.84" fill="#1a1a1a"/>
<line x1="459.8" y1="49" x2="488.9" y2="49" stroke="#444" stroke-width="1.2" />
<polygon points="474.1,43.95 474.54,44.84 475.53,44.99 474.81,45.68 474.98,46.66 474.1,46.2 473.22,46.66 473.39,45.68 472.67,44.99 473.66,44.84" fill="#1a1a1a"/>
<line x1="388.1" y1="91.1" x2="406.7" y2="91.1" stroke="#161616" stroke-width="1.6" />
<line x1="392.8" y1="87.3" x2="402" y2="87.3" stroke="#161616" stroke-width="1.1" />
<line x1="392.8" y1="94.6" x2="402" y2="94.6" stroke="#161616" stroke-width="1.1" />
<line x1="397.4" y1="87.3" x2="397.4" y2="94.6" stroke="#161616" stroke-width="1.1" />
<circle cx="394.7" cy="72.1" r="1.6" fill="#0e3078"/>
<circle cx="399.6" cy="75.7" r="1.6" fill="#0e3078"/>
<circle cx="397.2" cy="85.3" r="1.6" fill="#0e3078"/>
<circle cx="395" cy="93.3" r="1.6" fill="#0e3078"/>
<circle cx="399.6" cy="94.4" r="1.6" fill="#0e3078"/>
<circle cx="404.4" cy="96.8" r="1.6" fill="#0e3078"/>
<circle cx="389.9" cy="99.2" r="1.6" fill="#0e3078"/>
<circle cx="394.7" cy="101.25" r="1.6" fill="#0e3078"/>
<circle cx="399.6" cy="100.7" r="1.6" fill="#0e3078"/>
<line x1="418" y1="86.1" x2="437" y2="86.1" stroke="#161616" stroke-width="1.6" />
<line x1="422.8" y1="78.9" x2="432.2" y2="78.9" stroke="#161616" stroke-width="1.1" />
<line x1="422.8" y1="92.7" x2="432.2" y2="92.7" stroke="#161616" stroke-width="1.1" />
<line x1="427.5" y1="78.9" x2="427.5" y2="92.7" stroke="#161616" stroke-width="1.1" />
<rect x="423.5" y="54.7" width="3" height="3" fill="#3e1456"/>
<rect x="428.3" y="53" width="3" height="3" fill="#3e1456"/>
<rect x="426" y="76.8" width="3" height="3" fill="#3e1456"/>
<rect x="428.3" y="84.9" width="3" height="3" fill="#3e1456"/>
<rect x="423.5" y="88.5" width="3" height="3" fill="#3e1456"/>
<rect x="423.5" y="96.1" width="3" height="3" fill="#3e1456"/>
<rect x="430.5" y="98.5" width="3" height="3" fill="#3e1456"/>
<rect x="423.5" y="104.2" width="3" height="3" fill="#3e1456"/>
<rect x="428" y="103.3" width="3" height="3" fill="#3e1456"/>
<line x1="448.15" y1="117.1" x2="466.65" y2="117.1" stroke="#161616" stroke-width="1.6" />
<line x1="453.5" y1="113.4" x2="461.3" y2="113.4" stroke="#161616" stroke-width="1.1" />
<line x1="453.5" y1="121.1" x2="461.3" y2="121.1" stroke="#161616" stroke-width="1.1" />
<line x1="457.4" y1="113.4" x2="457.4" y2="121.1" stroke="#161616" stroke-width="1.1" />
<polygon points="452.7,103.16 451.1,106.04 454.3,106.04" fill="#ae1240"/>
<polygon points="457.4,101.96 455.8,104.84 459,104.84" fill="#ae1240"/>
<polygon points="457.4,107.46 455.8,110.34 459,110.34" fill="#ae1240"/>
<polygon points="462.2,106.76 460.6,109.64 463.8,109.64" fill="#ae1240"/>
<polygon points="457.4,114.56 455.8,117.44 459,117.44" fill="#ae1240"/>
<polygon points="449.9,127.26 448.3,130.14 451.5,130.14" fill="#ae1240"/>
<polygon points="454.6,127.96 453,130.84 456.2,130.84" fill="#ae1240"/>
<polygon points="459.6,127.96 458,130.84 461.2,130.84" fill="#ae1240"/>
<polygon points="464.5,126.76 462.9,129.64 466.1,129.64" fill="#ae1240"/>
<line x1="477.7" y1="103.4" x2="496.7" y2="103.4" stroke="#161616" stroke-width="1.6" />
<line x1="482.45" y1="96.8" x2="491.95" y2="96.8" stroke="#161616" stroke-width="1.1" />
<line x1="482.45" y1="110" x2="491.95" y2="110" stroke="#161616" stroke-width="1.1" />
<line x1="487.2" y1="96.8" x2="487.2" y2="110" stroke="#161616" stroke-width="1.1" />
<polygon points="487,67.04 485.4,64.16 488.6,64.16" fill="#6bb13a"/>
<polygon points="487,84.04 485.4,81.16 488.6,81.16" fill="#6bb13a"/>
<polygon points="487,91.44 485.4,88.56 488.6,88.56" fill="#6bb13a"/>
<polygon points="482.3,113.84 480.7,110.96 483.9,110.96" fill="#6bb13a"/>
<polygon points="484.9,117.14 483.3,114.26 486.5,114.26" fill="#6bb13a"/>
<polygon points="490.1,112.64 488.5,109.76 491.7,109.76" fill="#6bb13a"/>
<polygon points="489.6,120.74 488,117.86 491.2,117.86" fill="#6bb13a"/>
<polygon points="487,128.94 485.4,126.06 488.6,126.06" fill="#6bb13a"/>
<text x="0" y="0" font-size="10.2" text-anchor="middle" textLength="98.2" lengthAdjust="spacingAndGlyphs" transform="translate(192.2,273.6) rotate(-90)">Maximum clot firmness (mm)</text>
<line x1="212.4" y1="231.2" x2="212.4" y2="317.6" stroke="#000" stroke-width="1.1" />
<line x1="209.4" y1="234.45" x2="212.4" y2="234.45" stroke="#000" stroke-width="1" />
<text x="206.3" y="237.05" font-size="8.3" text-anchor="end" fill="#000" font-weight="normal" textLength="9.05" lengthAdjust="spacingAndGlyphs" >50</text>
<line x1="209.4" y1="251" x2="212.4" y2="251" stroke="#000" stroke-width="1" />
<text x="206.3" y="253.6" font-size="8.3" text-anchor="end" fill="#000" font-weight="normal" textLength="9.05" lengthAdjust="spacingAndGlyphs" >40</text>
<line x1="209.4" y1="267.55" x2="212.4" y2="267.55" stroke="#000" stroke-width="1" />
<text x="206.3" y="270.15" font-size="8.3" text-anchor="end" fill="#000" font-weight="normal" textLength="9.05" lengthAdjust="spacingAndGlyphs" >30</text>
<line x1="209.4" y1="284.1" x2="212.4" y2="284.1" stroke="#000" stroke-width="1" />
<text x="206.3" y="286.7" font-size="8.3" text-anchor="end" fill="#000" font-weight="normal" textLength="9.05" lengthAdjust="spacingAndGlyphs" >20</text>
<line x1="209.4" y1="300.65" x2="212.4" y2="300.65" stroke="#000" stroke-width="1" />
<text x="206.3" y="303.25" font-size="8.3" text-anchor="end" fill="#000" font-weight="normal" textLength="9.05" lengthAdjust="spacingAndGlyphs" >10</text>
<line x1="209.4" y1="317.2" x2="212.4" y2="317.2" stroke="#000" stroke-width="1" />
<text x="206.3" y="319.8" font-size="8.3" text-anchor="end" fill="#000" font-weight="normal" textLength="4.52" lengthAdjust="spacingAndGlyphs" >0</text>
<line x1="211.5" y1="317.2" x2="330.8" y2="317.2" stroke="#000" stroke-width="1.2" />
<line x1="232.8" y1="317.2" x2="232.8" y2="320" stroke="#000" stroke-width="1" />
<line x1="274.6" y1="317.2" x2="274.6" y2="320" stroke="#000" stroke-width="1" />
<line x1="316.5" y1="317.2" x2="316.5" y2="320" stroke="#000" stroke-width="1" />
<text x="233.2" y="330" font-size="8" text-anchor="middle" fill="#000" font-weight="normal" textLength="35.3" lengthAdjust="spacingAndGlyphs" >PRP alone</text>
<text x="274.5" y="330" font-size="8" text-anchor="middle" fill="#000" font-weight="normal" textLength="13" lengthAdjust="spacingAndGlyphs" >PRP</text>
<text x="275.1" y="339.5" font-size="8" text-anchor="middle" fill="#000" font-weight="normal" textLength="37.2" lengthAdjust="spacingAndGlyphs" >+irrelevant</text>
<text x="274.7" y="348.9" font-size="8" text-anchor="middle" fill="#000" font-weight="normal" textLength="11.8" lengthAdjust="spacingAndGlyphs" >IgG</text>
<text x="319.8" y="330" font-size="8" text-anchor="middle" fill="#000" font-weight="normal" textLength="13.2" lengthAdjust="spacingAndGlyphs" >PRP</text>
<text x="319.3" y="339.5" font-size="8" text-anchor="middle" fill="#000" font-weight="normal" textLength="36.8" lengthAdjust="spacingAndGlyphs" >+anti-PN-1</text>
<line x1="235.5" y1="224.4" x2="313" y2="224.4" stroke="#333" stroke-width="1.1" />
<polygon points="274.5,219.35 274.94,220.24 275.93,220.39 275.21,221.08 275.38,222.06 274.5,221.6 273.62,222.06 273.79,221.08 273.07,220.39 274.06,220.24" fill="#1a1a1a"/>
<line x1="276.4" y1="231.6" x2="313" y2="231.6" stroke="#444" stroke-width="1.3" />
<polygon points="294.9,226.45 295.34,227.34 296.33,227.49 295.61,228.18 295.78,229.16 294.9,228.7 294.02,229.16 294.19,228.18 293.47,227.49 294.46,227.34" fill="#1a1a1a"/>
<line x1="219.3" y1="275" x2="247.1" y2="275" stroke="#161616" stroke-width="1.6" />
<line x1="226.3" y1="267" x2="240.1" y2="267" stroke="#161616" stroke-width="1.1" />
<line x1="226.3" y1="283.3" x2="240.1" y2="283.3" stroke="#161616" stroke-width="1.1" />
<line x1="233.2" y1="267" x2="233.2" y2="283.3" stroke="#161616" stroke-width="1.1" />
<circle cx="233.25" cy="249.75" r="1.6" fill="#a31431"/>
<circle cx="233.25" cy="258.75" r="1.6" fill="#a31431"/>
<circle cx="233.25" cy="270.75" r="1.6" fill="#a31431"/>
<circle cx="233.25" cy="280.5" r="1.6" fill="#a31431"/>
<circle cx="233.25" cy="290.75" r="1.6" fill="#a31431"/>
<circle cx="233.25" cy="300.5" r="1.6" fill="#a31431"/>
<line x1="261.15" y1="278.8" x2="288.85" y2="278.8" stroke="#161616" stroke-width="1.6" />
<line x1="268.05" y1="273.8" x2="281.95" y2="273.8" stroke="#161616" stroke-width="1.1" />
<line x1="268.05" y1="283.6" x2="281.95" y2="283.6" stroke="#161616" stroke-width="1.1" />
<line x1="275" y1="273.8" x2="275" y2="283.6" stroke="#161616" stroke-width="1.1" />
<rect x="273" y="257.25" width="3" height="3" fill="#a31431"/>
<rect x="268" y="275.5" width="3" height="3" fill="#a31431"/>
<rect x="275.5" y="289.25" width="3" height="3" fill="#a31431"/>
<rect x="271" y="291.5" width="3" height="3" fill="#a31431"/>
<circle cx="280" cy="273.75" r="1.6" fill="#a31431"/>
<circle cx="275" cy="278" r="1.6" fill="#a31431"/>
<line x1="302.5" y1="267.1" x2="330.5" y2="267.1" stroke="#161616" stroke-width="1.6" />
<line x1="309.5" y1="260.2" x2="323.5" y2="260.2" stroke="#161616" stroke-width="1.1" />
<line x1="309.5" y1="273.7" x2="323.5" y2="273.7" stroke="#161616" stroke-width="1.1" />
<line x1="316.5" y1="260.2" x2="316.5" y2="273.7" stroke="#161616" stroke-width="1.1" />
<polygon points="316.5,243.05 315,245.75 318,245.75" fill="#1b3f8c"/>
<polygon points="316.5,254.75 315,257.45 318,257.45" fill="#1b3f8c"/>
<polygon points="316.5,260.65 315,263.35 318,263.35" fill="#1b3f8c"/>
<polygon points="314,275.65 312.5,278.35 315.5,278.35" fill="#1b3f8c"/>
<polygon points="319.2,276.55 317.7,279.25 320.7,279.25" fill="#1b3f8c"/>
<polygon points="316.5,287.65 315,290.35 318,290.35" fill="#1b3f8c"/>
<text x="0" y="0" font-size="10.4" text-anchor="middle" textLength="52" lengthAdjust="spacingAndGlyphs" transform="translate(353.9,272.3) rotate(-90)">Lysis on time (s)</text>
<line x1="382.5" y1="228.2" x2="382.5" y2="317.8" stroke="#000" stroke-width="1.1" />
<line x1="379.5" y1="230.8" x2="382.5" y2="230.8" stroke="#000" stroke-width="1" />
<text x="376.5" y="233.4" font-size="8.3" text-anchor="end" fill="#000" font-weight="normal" textLength="13.57" lengthAdjust="spacingAndGlyphs" >400</text>
<line x1="379.5" y1="252.4" x2="382.5" y2="252.4" stroke="#000" stroke-width="1" />
<text x="376.5" y="255" font-size="8.3" text-anchor="end" fill="#000" font-weight="normal" textLength="13.57" lengthAdjust="spacingAndGlyphs" >300</text>
<line x1="379.5" y1="274" x2="382.5" y2="274" stroke="#000" stroke-width="1" />
<text x="376.5" y="276.6" font-size="8.3" text-anchor="end" fill="#000" font-weight="normal" textLength="13.57" lengthAdjust="spacingAndGlyphs" >200</text>
<line x1="379.5" y1="295.6" x2="382.5" y2="295.6" stroke="#000" stroke-width="1" />
<text x="376.5" y="298.2" font-size="8.3" text-anchor="end" fill="#000" font-weight="normal" textLength="13.57" lengthAdjust="spacingAndGlyphs" >100</text>
<line x1="379.5" y1="317.2" x2="382.5" y2="317.2" stroke="#000" stroke-width="1" />
<text x="376.1" y="319.8" font-size="8.3" text-anchor="end" fill="#000" font-weight="normal" textLength="4.52" lengthAdjust="spacingAndGlyphs" >0</text>
<line x1="382" y1="317.2" x2="504.7" y2="317.2" stroke="#000" stroke-width="1.2" />
<line x1="403.8" y1="317.2" x2="403.8" y2="320" stroke="#000" stroke-width="1" />
<line x1="447.3" y1="317.2" x2="447.3" y2="320" stroke="#000" stroke-width="1" />
<line x1="490.4" y1="317.2" x2="490.4" y2="320" stroke="#000" stroke-width="1" />
<text x="404" y="330" font-size="8" text-anchor="middle" fill="#000" font-weight="normal" textLength="35.4" lengthAdjust="spacingAndGlyphs" >PRP alone</text>
<text x="447.1" y="330" font-size="8" text-anchor="middle" fill="#000" font-weight="normal" textLength="12.9" lengthAdjust="spacingAndGlyphs" >PRP</text>
<text x="447.5" y="339.5" font-size="8" text-anchor="middle" fill="#000" font-weight="normal" textLength="37" lengthAdjust="spacingAndGlyphs" >+irrelevant</text>
<text x="447.3" y="348.9" font-size="8" text-anchor="middle" fill="#000" font-weight="normal" textLength="12" lengthAdjust="spacingAndGlyphs" >IgG</text>
<text x="493.5" y="330" font-size="8" text-anchor="middle" fill="#000" font-weight="normal" textLength="13.2" lengthAdjust="spacingAndGlyphs" >PRP</text>
<text x="493.3" y="339.5" font-size="8" text-anchor="middle" fill="#000" font-weight="normal" textLength="37.3" lengthAdjust="spacingAndGlyphs" >+anti-PN-1</text>
<line x1="390.2" y1="224.8" x2="483.1" y2="224.8" stroke="#555" stroke-width="1.3" />
<polygon points="436.5,219.65 436.94,220.54 437.93,220.69 437.21,221.38 437.38,222.36 436.5,221.9 435.62,222.36 435.79,221.38 435.07,220.69 436.06,220.54" fill="#1a1a1a"/>
<line x1="440.4" y1="235" x2="482.1" y2="235" stroke="#444" stroke-width="1.2" />
<polygon points="461.3,229.85 461.74,230.74 462.73,230.89 462.01,231.58 462.18,232.56 461.3,232.1 460.42,232.56 460.59,231.58 459.87,230.89 460.86,230.74" fill="#1a1a1a"/>
<line x1="390.1" y1="269.1" x2="418.1" y2="269.1" stroke="#161616" stroke-width="1.6" />
<line x1="397.25" y1="264" x2="410.95" y2="264" stroke="#161616" stroke-width="1.1" />
<line x1="397.25" y1="274.1" x2="410.95" y2="274.1" stroke="#161616" stroke-width="1.1" />
<line x1="404.1" y1="264" x2="404.1" y2="274.1" stroke="#161616" stroke-width="1.1" />
<circle cx="404.1" cy="256.7" r="1.6" fill="#a31431"/>
<circle cx="404.1" cy="263.3" r="1.6" fill="#a31431"/>
<circle cx="401.5" cy="269.3" r="1.6" fill="#a31431"/>
<circle cx="406.7" cy="271.7" r="1.6" fill="#a31431"/>
<circle cx="404.1" cy="285.7" r="1.6" fill="#a31431"/>
<line x1="433.3" y1="269.2" x2="461.3" y2="269.2" stroke="#161616" stroke-width="1.6" />
<line x1="440.4" y1="265.7" x2="454.2" y2="265.7" stroke="#161616" stroke-width="1.1" />
<line x1="440.4" y1="272.1" x2="454.2" y2="272.1" stroke="#161616" stroke-width="1.1" />
<line x1="447.3" y1="265.7" x2="447.3" y2="272.1" stroke="#161616" stroke-width="1.1" />
<rect x="445.8" y="260.6" width="3" height="3" fill="#a31431"/>
<rect x="451" y="264.3" width="3" height="3" fill="#a31431"/>
<rect x="440.8" y="266" width="3" height="3" fill="#a31431"/>
<rect x="446" y="268.1" width="3" height="3" fill="#a31431"/>
<rect x="446" y="278.1" width="3" height="3" fill="#a31431"/>
<line x1="476.3" y1="252.7" x2="504.5" y2="252.7" stroke="#161616" stroke-width="1.6" />
<line x1="483.45" y1="246.9" x2="497.35" y2="246.9" stroke="#161616" stroke-width="1.1" />
<line x1="483.45" y1="259.3" x2="497.35" y2="259.3" stroke="#161616" stroke-width="1.1" />
<line x1="490.4" y1="246.9" x2="490.4" y2="259.3" stroke="#161616" stroke-width="1.1" />
<polygon points="485.2,241.35 483.7,244.05 486.7,244.05" fill="#1b3f8c"/>
<polygon points="496,241.65 494.5,244.35 497.5,244.35" fill="#1b3f8c"/>
<polygon points="490.4,246.05 488.9,248.75 491.9,248.75" fill="#1b3f8c"/>
<polygon points="490.4,259.25 488.9,261.95 491.9,261.95" fill="#1b3f8c"/>
<polygon points="490.4,273.25 488.9,275.95 491.9,275.95" fill="#1b3f8c"/>
<rect x="0.5" y="0.5" width="519" height="359" fill="none" stroke="#000" stroke-width="1.1"/>
</svg></body></html>
